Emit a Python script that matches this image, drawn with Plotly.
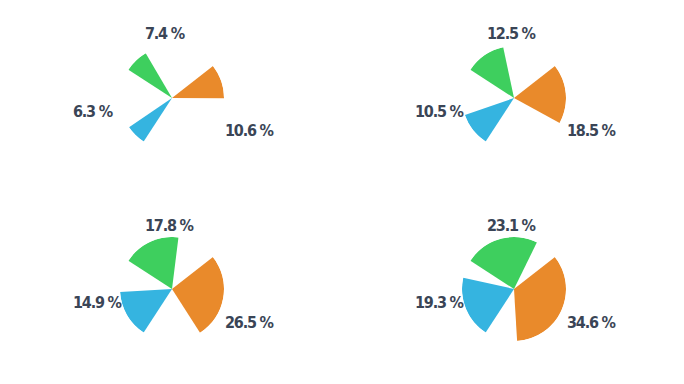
import plotly.graph_objects as go

# Data
panels = ["A", "B", "C", "D"]
orange_vals = [10.6, 18.5, 26.5, 34.6]
green_vals = [7.4, 12.5, 17.8, 23.1]
blue_vals = [6.3, 10.5, 14.9, 19.3]
series_names = ["Orange", "Green", "Blue"]

# Style / layout constants
colors = ["#E98A2B", "#3ECF5E", "#35B4E0"]
edge_angles = [38, 147, 237]          # counter-clockwise edge of each wedge (deg)
label_offsets = [(51, 33), (-29, -64), (-101, 13)]  # px from centre, left-aligned
centers = [(172, 98), (514, 98), (172, 289), (514, 289)]
W, H = 684, 384
R = 52
text_color = "#3A4556"
font_family = "DejaVu Sans Condensed, sans-serif"

fig = go.Figure()
annotations = []
series = [orange_vals, green_vals, blue_vals]

for i, (cx, cy) in enumerate(centers):
    pname = "polar" if i == 0 else f"polar{i+1}"
    sub = "polar" if i == 0 else f"polar{i+1}"
    vals = [s[i] for s in series]
    widths = [v * 3.6 for v in vals]
    thetas = [e - w / 2 for e, w in zip(edge_angles, widths)]
    fig.add_trace(go.Barpolar(
        r=[1, 1, 1], theta=thetas, width=widths,
        marker=dict(color=colors, line=dict(width=0)),
        subplot=sub, showlegend=False, hoverinfo="skip",
        text=series_names,
    ))
    dom_x = [(cx - R) / W, (cx + R) / W]
    dom_y = [1 - (cy + R) / H, 1 - (cy - R) / H]
    fig.layout[pname] = dict(
        domain=dict(x=dom_x, y=dom_y),
        bgcolor="rgba(0,0,0,0)",
        radialaxis=dict(range=[0, 1], visible=False, showgrid=False),
        angularaxis=dict(visible=False, showgrid=False, rotation=0,
                         direction="counterclockwise"),
        hole=0,
    )
    for v, (dx, dy) in zip(vals, label_offsets):
        annotations.append(dict(
            x=(cx + dx) / W, y=1 - (cy + dy) / H, xref="paper", yref="paper",
            text=f"<span style='letter-spacing:-1.2px'>{v} %</span>",
            showarrow=False, xanchor="left", yanchor="middle",
            font=dict(family=font_family, size=16, color=text_color, weight="bold"),
        ))

fig.update_layout(
    width=W, height=H, margin=dict(l=0, r=0, t=0, b=0),
    paper_bgcolor="white", plot_bgcolor="white",
    annotations=annotations, showlegend=False,
)

fig.write_html("out.html")
